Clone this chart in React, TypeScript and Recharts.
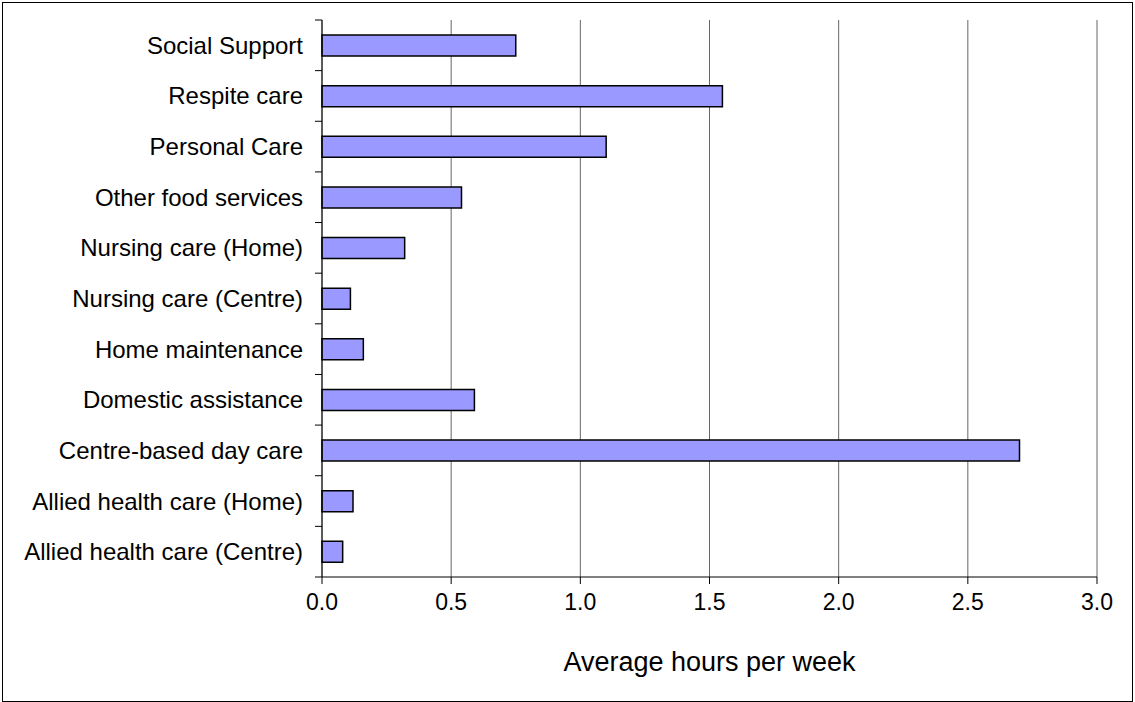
import React from 'react';
import { BarChart, Bar, XAxis, YAxis, CartesianGrid } from 'recharts';

const categories = [
    'Social Support',
    'Respite care',
    'Personal Care',
    'Other food services',
    'Nursing care (Home)',
    'Nursing care (Centre)',
    'Home maintenance',
    'Domestic assistance',
    'Centre-based day care',
    'Allied health care (Home)',
    'Allied health care (Centre)',
];

const hours = [0.75, 1.55, 1.1, 0.54, 0.32, 0.11, 0.16, 0.59, 2.7, 0.12, 0.08];

const xTicks = [0, 0.5, 1, 1.5, 2, 2.5, 3];

const data = categories.map((name, i) => ({ name, hours: hours[i] }));

const W = 1135;
const H = 702;
const TOP = 20;
const AXIS_W = 322;
const XAXIS_H = 125;
const BAND = (H - TOP - XAXIS_H) / categories.length;
const FONT = 'Liberation Sans, Arial, sans-serif';

const CategoryTick = (props: any) => {
    const { y, payload, index } = props;
    const ax = AXIS_W;
    return (
        <g>
            <line x1={ax - 7} x2={ax} y1={y - BAND / 2} y2={y - BAND / 2} stroke="#000" />
            {index === categories.length - 1 && (
                <line x1={ax - 7} x2={ax} y1={y + BAND / 2} y2={y + BAND / 2} stroke="#000" />
            )}
            <text
                x={ax - 19}
                y={y}
                textAnchor="end"
                dominantBaseline="central"
                fontFamily={FONT}
                fontSize={24}
                fill="#000"
            >
                {payload.value}
            </text>
        </g>
    );
};

const App: React.FC = () => {
    return (
        <div style={{ position: 'absolute', left: 0, top: 0, width: W, height: H, background: '#fff' }}>
            <div
                style={{
                    position: 'absolute',
                    left: 2,
                    top: 2,
                    width: 1131,
                    height: 700,
                    border: '1px solid #000',
                    boxSizing: 'border-box',
                }}
            />
            <BarChart
                width={W}
                height={H}
                data={data}
                layout="vertical"
                margin={{ top: TOP, right: 38, left: 0, bottom: 0 }}
                style={{ position: 'absolute', left: 0, top: 0 }}
            >
                <CartesianGrid horizontal={false} stroke="#666" />
                <XAxis
                    type="number"
                    dataKey="hours"
                    domain={[0, 3]}
                    ticks={xTicks}
                    interval={0}
                    height={XAXIS_H}
                    tickSize={7}
                    tickMargin={10}
                    tickFormatter={(v: number) => v.toFixed(1)}
                    stroke="#000"
                    tick={{ fill: '#000', fontSize: 23, fontFamily: FONT }}
                    label={{
                        value: 'Average hours per week',
                        position: 'insideBottom',
                        offset: 31,
                        fill: '#000',
                        fontSize: 27,
                        fontFamily: FONT,
                    }}
                />
                <YAxis
                    type="category"
                    dataKey="name"
                    width={AXIS_W}
                    interval={0}
                    tickLine={false}
                    stroke="#000"
                    tick={<CategoryTick />}
                />
                <Bar
                    dataKey="hours"
                    fill="#9999FF"
                    stroke="#000"
                    strokeWidth={1.5}
                    barSize={21}
                    isAnimationActive={false}
                />
            </BarChart>
        </div>
    );
};

export default App;
